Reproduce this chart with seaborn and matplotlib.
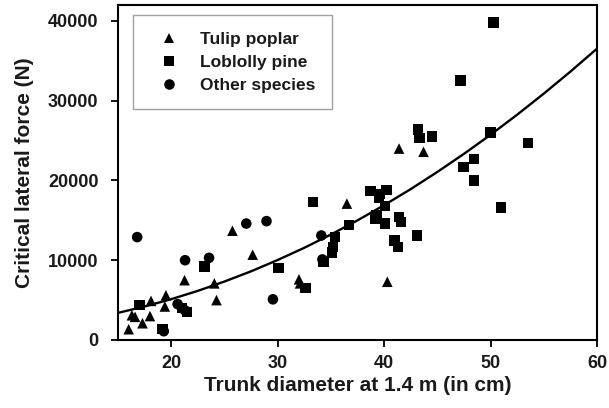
import pandas as pd
import seaborn as sns
from matplotlib import pyplot as plt

# tulip poplar points (diameter in cm, force in N)
tulip_x = [16.0, 16.3, 16.6, 17.3, 18.0, 18.1, 19.5, 19.4, 21.25, 24.05, 24.25,
           25.75, 27.65, 32.0, 32.1, 36.5, 40.3, 41.4, 43.7]
tulip_y = [1350, 3100, 2900, 2100, 3000, 4900, 5600, 4200, 7500, 7100, 5000,
           13700, 10700, 7600, 7100, 17100, 7300, 24000, 23600]

# loblolly pine points
pine_x = [17.0, 19.2, 21.0, 21.5, 23.15, 30.05, 32.6, 33.3, 34.3, 35.4, 35.2,
          35.1, 36.7, 38.7, 39.6, 40.2, 39.5, 40.1, 39.3, 39.2, 40.1, 41.4,
          41.6, 43.1, 41.0, 41.3, 43.2, 43.3, 44.5, 47.15, 50.3, 50.0, 53.5,
          48.45, 47.45, 48.45, 51.0]
pine_y = [4400, 1400, 4000, 3500, 9200, 9000, 6500, 17300, 9800, 12900, 11650,
          11000, 14400, 18700, 18300, 18800, 17800, 16800, 15600, 15200, 14600,
          15400, 14800, 13100, 12500, 11650, 26400, 25300, 25500, 32500, 39800,
          26000, 24700, 22700, 21700, 20000, 16600]

# other species points
other_x = [16.8, 19.3, 20.6, 21.3, 21.3, 23.55, 27.05, 28.95, 29.55, 34.1, 34.2]
other_y = [12900, 1100, 4500, 3700, 10000, 10300, 14600, 14900, 5100, 13100, 10100]

# fitted curve
fit_x = [15, 17.5, 20, 22.5, 25, 27.5, 30, 32.5, 35, 37.5, 40, 42.5, 45,
         47.5, 50, 52.5, 55, 57.5, 60]
fit_y = [3400, 4200, 5120, 6160, 7330, 8610, 10030, 11560, 13220, 15000,
         16900, 18920, 21070, 23340, 25730, 28250, 30890, 33650, 36530]

species = ["Tulip poplar", "Loblolly pine", "Other species"]

df = pd.concat([
    pd.DataFrame({"d": tulip_x, "f": tulip_y, "species": species[0]}),
    pd.DataFrame({"d": pine_x, "f": pine_y, "species": species[1]}),
    pd.DataFrame({"d": other_x, "f": other_y, "species": species[2]}),
])
fit_df = pd.DataFrame({"d": fit_x, "f": fit_y})

sns.set_style("ticks")
plt.rcParams["font.family"] = ["Liberation Sans", "DejaVu Sans"]
plt.rcParams["font.weight"] = "bold"
txt = "#1a1a1a"

fig = plt.figure(figsize=(6.09, 4.08), dpi=100)
ax = fig.add_axes([0.1938, 0.1667, 0.7865, 0.821])

# fitted line first so markers sit above it
sns.lineplot(data=fit_df, x="d", y="f", ax=ax, color="black", linewidth=1.7)

sns.scatterplot(data=df, x="d", y="f", style="species", ax=ax,
                markers={"Tulip poplar": "^", "Loblolly pine": "s", "Other species": "o"},
                style_order=species, color="black", edgecolor="black",
                s=58, linewidth=0, zorder=3)

ax.set_xlim(15, 60)
ax.set_ylim(0, 42000)
ax.set_xticks([20, 30, 40, 50, 60])
ax.set_yticks([0, 10000, 20000, 30000, 40000])
ax.tick_params(axis="both", direction="out", length=5, width=1.3,
               labelsize=13, colors="black", labelcolor=txt)
ax.tick_params(axis="y", pad=9)
ax.tick_params(axis="x", pad=6)
for lab in ax.get_xticklabels() + ax.get_yticklabels():
    lab.set_fontweight("bold")

for sp in ax.spines.values():
    sp.set_linewidth(1.5)
    sp.set_color("black")

ax.set_xlabel("Trunk diameter at 1.4 m (in cm)", fontsize=15, fontweight="bold",
              color=txt, labelpad=3)
ax.set_ylabel("Critical lateral force (N)", fontsize=15, fontweight="bold",
              color=txt, labelpad=10)

# legend box in the upper left
handles, labels = ax.get_legend_handles_labels()
leg = ax.legend(handles, labels, loc="upper left", bbox_to_anchor=(0.031, 0.97),
                borderaxespad=0, frameon=True, fancybox=False, edgecolor="#888888",
                prop={"size": 12.5, "weight": "bold"}, borderpad=0.95,
                handlelength=2.3, handletextpad=0.6, labelspacing=0.45,
                markerscale=1.0)
leg.get_frame().set_linewidth(1.0)
for t in leg.get_texts():
    t.set_color(txt)

fig.savefig("out.png", dpi=100)
